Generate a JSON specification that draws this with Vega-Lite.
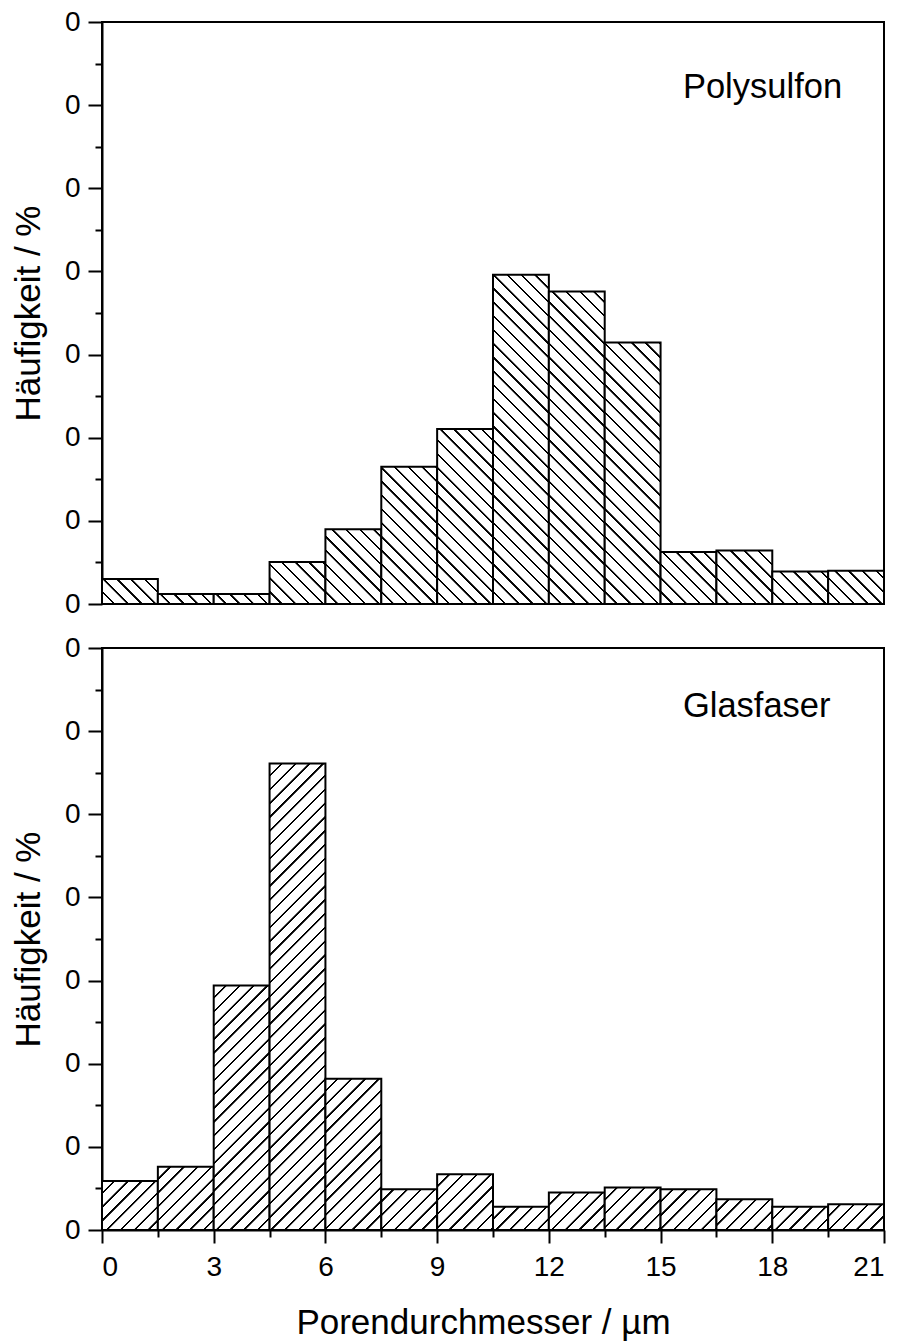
{
  "$schema": "https://vega.github.io/schema/vega-lite/v6.json",
  "padding": {"top": 7, "left": 10, "right": 5, "bottom": 5},
  "bounds": "flush",
  "spacing": 44,
  "params": [
    {
      "name": "hatchStops",
      "value": [
        {"offset":0,"color":"#fff"},{"offset":0.016,"color":"#fff"},{"offset":0.0166,"color":"#000"},{"offset":0.0194,"color":"#000"},
        {"offset":0.02,"color":"#fff"},{"offset":0.036,"color":"#fff"},{"offset":0.0366,"color":"#000"},{"offset":0.0394,"color":"#000"},
        {"offset":0.04,"color":"#fff"},{"offset":0.056,"color":"#fff"},{"offset":0.0566,"color":"#000"},{"offset":0.0594,"color":"#000"},
        {"offset":0.06,"color":"#fff"},{"offset":0.076,"color":"#fff"},{"offset":0.0766,"color":"#000"},{"offset":0.0794,"color":"#000"},
        {"offset":0.08,"color":"#fff"},{"offset":0.096,"color":"#fff"},{"offset":0.0966,"color":"#000"},{"offset":0.0994,"color":"#000"},
        {"offset":0.10,"color":"#fff"},{"offset":0.116,"color":"#fff"},{"offset":0.1166,"color":"#000"},{"offset":0.1194,"color":"#000"},
        {"offset":0.12,"color":"#fff"},{"offset":0.136,"color":"#fff"},{"offset":0.1366,"color":"#000"},{"offset":0.1394,"color":"#000"},
        {"offset":0.14,"color":"#fff"},{"offset":0.156,"color":"#fff"},{"offset":0.1566,"color":"#000"},{"offset":0.1594,"color":"#000"},
        {"offset":0.16,"color":"#fff"},{"offset":0.176,"color":"#fff"},{"offset":0.1766,"color":"#000"},{"offset":0.1794,"color":"#000"},
        {"offset":0.18,"color":"#fff"},{"offset":0.196,"color":"#fff"},{"offset":0.1966,"color":"#000"},{"offset":0.1994,"color":"#000"},
        {"offset":0.20,"color":"#fff"},{"offset":0.216,"color":"#fff"},{"offset":0.2166,"color":"#000"},{"offset":0.2194,"color":"#000"},
        {"offset":0.22,"color":"#fff"},{"offset":0.236,"color":"#fff"},{"offset":0.2366,"color":"#000"},{"offset":0.2394,"color":"#000"},
        {"offset":0.24,"color":"#fff"},{"offset":0.256,"color":"#fff"},{"offset":0.2566,"color":"#000"},{"offset":0.2594,"color":"#000"},
        {"offset":0.26,"color":"#fff"},{"offset":0.276,"color":"#fff"},{"offset":0.2766,"color":"#000"},{"offset":0.2794,"color":"#000"},
        {"offset":0.28,"color":"#fff"},{"offset":0.296,"color":"#fff"},{"offset":0.2966,"color":"#000"},{"offset":0.2994,"color":"#000"},
        {"offset":0.30,"color":"#fff"},{"offset":0.316,"color":"#fff"},{"offset":0.3166,"color":"#000"},{"offset":0.3194,"color":"#000"},
        {"offset":0.32,"color":"#fff"},{"offset":0.336,"color":"#fff"},{"offset":0.3366,"color":"#000"},{"offset":0.3394,"color":"#000"},
        {"offset":0.34,"color":"#fff"},{"offset":0.356,"color":"#fff"},{"offset":0.3566,"color":"#000"},{"offset":0.3594,"color":"#000"},
        {"offset":0.36,"color":"#fff"},{"offset":0.376,"color":"#fff"},{"offset":0.3766,"color":"#000"},{"offset":0.3794,"color":"#000"},
        {"offset":0.38,"color":"#fff"},{"offset":0.396,"color":"#fff"},{"offset":0.3966,"color":"#000"},{"offset":0.3994,"color":"#000"},
        {"offset":0.40,"color":"#fff"},{"offset":0.416,"color":"#fff"},{"offset":0.4166,"color":"#000"},{"offset":0.4194,"color":"#000"},
        {"offset":0.42,"color":"#fff"},{"offset":0.436,"color":"#fff"},{"offset":0.4366,"color":"#000"},{"offset":0.4394,"color":"#000"},
        {"offset":0.44,"color":"#fff"},{"offset":0.456,"color":"#fff"},{"offset":0.4566,"color":"#000"},{"offset":0.4594,"color":"#000"},
        {"offset":0.46,"color":"#fff"},{"offset":0.476,"color":"#fff"},{"offset":0.4766,"color":"#000"},{"offset":0.4794,"color":"#000"},
        {"offset":0.48,"color":"#fff"},{"offset":0.496,"color":"#fff"},{"offset":0.4966,"color":"#000"},{"offset":0.4994,"color":"#000"},
        {"offset":0.50,"color":"#fff"},{"offset":0.516,"color":"#fff"},{"offset":0.5166,"color":"#000"},{"offset":0.5194,"color":"#000"},
        {"offset":0.52,"color":"#fff"},{"offset":0.536,"color":"#fff"},{"offset":0.5366,"color":"#000"},{"offset":0.5394,"color":"#000"},
        {"offset":0.54,"color":"#fff"},{"offset":0.556,"color":"#fff"},{"offset":0.5566,"color":"#000"},{"offset":0.5594,"color":"#000"},
        {"offset":0.56,"color":"#fff"},{"offset":0.576,"color":"#fff"},{"offset":0.5766,"color":"#000"},{"offset":0.5794,"color":"#000"},
        {"offset":0.58,"color":"#fff"},{"offset":0.596,"color":"#fff"},{"offset":0.5966,"color":"#000"},{"offset":0.5994,"color":"#000"},
        {"offset":0.60,"color":"#fff"},{"offset":0.616,"color":"#fff"},{"offset":0.6166,"color":"#000"},{"offset":0.6194,"color":"#000"},
        {"offset":0.62,"color":"#fff"},{"offset":0.636,"color":"#fff"},{"offset":0.6366,"color":"#000"},{"offset":0.6394,"color":"#000"},
        {"offset":0.64,"color":"#fff"},{"offset":0.656,"color":"#fff"},{"offset":0.6566,"color":"#000"},{"offset":0.6594,"color":"#000"},
        {"offset":0.66,"color":"#fff"},{"offset":0.676,"color":"#fff"},{"offset":0.6766,"color":"#000"},{"offset":0.6794,"color":"#000"},
        {"offset":0.68,"color":"#fff"},{"offset":0.696,"color":"#fff"},{"offset":0.6966,"color":"#000"},{"offset":0.6994,"color":"#000"},
        {"offset":0.70,"color":"#fff"},{"offset":0.716,"color":"#fff"},{"offset":0.7166,"color":"#000"},{"offset":0.7194,"color":"#000"},
        {"offset":0.72,"color":"#fff"},{"offset":0.736,"color":"#fff"},{"offset":0.7366,"color":"#000"},{"offset":0.7394,"color":"#000"},
        {"offset":0.74,"color":"#fff"},{"offset":0.756,"color":"#fff"},{"offset":0.7566,"color":"#000"},{"offset":0.7594,"color":"#000"},
        {"offset":0.76,"color":"#fff"},{"offset":0.776,"color":"#fff"},{"offset":0.7766,"color":"#000"},{"offset":0.7794,"color":"#000"},
        {"offset":0.78,"color":"#fff"},{"offset":0.796,"color":"#fff"},{"offset":0.7966,"color":"#000"},{"offset":0.7994,"color":"#000"},
        {"offset":0.80,"color":"#fff"},{"offset":0.816,"color":"#fff"},{"offset":0.8166,"color":"#000"},{"offset":0.8194,"color":"#000"},
        {"offset":0.82,"color":"#fff"},{"offset":0.836,"color":"#fff"},{"offset":0.8366,"color":"#000"},{"offset":0.8394,"color":"#000"},
        {"offset":0.84,"color":"#fff"},{"offset":0.856,"color":"#fff"},{"offset":0.8566,"color":"#000"},{"offset":0.8594,"color":"#000"},
        {"offset":0.86,"color":"#fff"},{"offset":0.876,"color":"#fff"},{"offset":0.8766,"color":"#000"},{"offset":0.8794,"color":"#000"},
        {"offset":0.88,"color":"#fff"},{"offset":0.896,"color":"#fff"},{"offset":0.8966,"color":"#000"},{"offset":0.8994,"color":"#000"},
        {"offset":0.90,"color":"#fff"},{"offset":0.916,"color":"#fff"},{"offset":0.9166,"color":"#000"},{"offset":0.9194,"color":"#000"},
        {"offset":0.92,"color":"#fff"},{"offset":0.936,"color":"#fff"},{"offset":0.9366,"color":"#000"},{"offset":0.9394,"color":"#000"},
        {"offset":0.94,"color":"#fff"},{"offset":0.956,"color":"#fff"},{"offset":0.9566,"color":"#000"},{"offset":0.9594,"color":"#000"},
        {"offset":0.96,"color":"#fff"},{"offset":0.976,"color":"#fff"},{"offset":0.9766,"color":"#000"},{"offset":0.9794,"color":"#000"},
        {"offset":0.98,"color":"#fff"},{"offset":0.996,"color":"#fff"},{"offset":0.9966,"color":"#000"},{"offset":0.9994,"color":"#000"}
      ]
    }
  ],
  "config": {
    "font": "Liberation Sans",
    "view": {"stroke": "black", "strokeWidth": 2},
    "axis": {
      "labelFont": "Liberation Sans",
      "titleFont": "Liberation Sans",
      "labelFontSize": 28,
      "titleFontSize": 35,
      "titleFontWeight": "normal",
      "labelColor": "black",
      "titleColor": "black",
      "domainColor": "black",
      "domainWidth": 2,
      "tickColor": "black",
      "tickWidth": 2,
      "grid": false
    }
  },
  "vconcat": [
    {
      "width": 782,
      "height": 582,
      "layer": [
        {
          "data": {
            "values": [
              {"x0": 0, "x1": 1.5, "v": 0.0150},
              {"x0": 1.5, "x1": 3, "v": 0.0060},
              {"x0": 3, "x1": 4.5, "v": 0.0060},
              {"x0": 4.5, "x1": 6, "v": 0.0253},
              {"x0": 6, "x1": 7.5, "v": 0.0450},
              {"x0": 7.5, "x1": 9, "v": 0.0825},
              {"x0": 9, "x1": 10.5, "v": 0.1053},
              {"x0": 10.5, "x1": 12, "v": 0.1980},
              {"x0": 12, "x1": 13.5, "v": 0.1879},
              {"x0": 13.5, "x1": 15, "v": 0.1572},
              {"x0": 15, "x1": 16.5, "v": 0.0313},
              {"x0": 16.5, "x1": 18, "v": 0.0321},
              {"x0": 18, "x1": 19.5, "v": 0.0195},
              {"x0": 19.5, "x1": 21, "v": 0.0200}
            ]
          },
          "mark": {"type": "bar", "stroke": "black", "strokeWidth": 2},
          "encoding": {
            "x": {"field": "x0", "type": "quantitative", "scale": {"domain": [0, 21], "nice": false}, "axis": null},
            "x2": {"field": "x1"},
            "y": {
              "field": "v",
              "type": "quantitative",
              "scale": {"domain": [0, 0.35], "nice": false},
              "axis": {
                "title": "Häufigkeit / %",
                "values": [0, 0.025, 0.05, 0.075, 0.1, 0.125, 0.15, 0.175, 0.2, 0.225, 0.25, 0.275, 0.3, 0.325, 0.35],
                "labelExpr": "round(datum.value * 40) % 2 == 0 ? '0' : ''",
                "tickSize": {"condition": {"test": "round(datum.value * 40) % 2 == 0", "value": 14}, "value": 7},
                "labelPadding": 8,
                "titlePadding": 18
              }
            },
            "y2": {"datum": 0},
            "fill": {"value": {"expr": "{gradient: 'linear', x1: 0, y1: 1, x2: 690 * 55.9 / (3124.8 + pow(datum.v * 1662.9, 2)), y2: 1 - 690 * datum.v * 1662.9 / (3124.8 + pow(datum.v * 1662.9, 2)), stops: hatchStops}"}}
          }
        },
        {
          "data": {"values": [{}]},
          "mark": {"type": "text", "align": "left", "baseline": "alphabetic", "fontSize": 34.5, "font": "Liberation Sans", "color": "black"},
          "encoding": {
            "x": {"datum": 15.6, "type": "quantitative"},
            "y": {"datum": 0.3043, "type": "quantitative"},
            "text": {"value": "Polysulfon"}
          }
        }
      ]
    },
    {
      "width": 782,
      "height": 582,
      "layer": [
        {
          "data": {
            "values": [
              {"x0": 0, "x1": 1.5, "v": 0.0295},
              {"x0": 1.5, "x1": 3, "v": 0.0380},
              {"x0": 3, "x1": 4.5, "v": 0.1470},
              {"x0": 4.5, "x1": 6, "v": 0.2805},
              {"x0": 6, "x1": 7.5, "v": 0.0910},
              {"x0": 7.5, "x1": 9, "v": 0.0245},
              {"x0": 9, "x1": 10.5, "v": 0.0335},
              {"x0": 10.5, "x1": 12, "v": 0.0140},
              {"x0": 12, "x1": 13.5, "v": 0.0225},
              {"x0": 13.5, "x1": 15, "v": 0.0255},
              {"x0": 15, "x1": 16.5, "v": 0.0245},
              {"x0": 16.5, "x1": 18, "v": 0.0185},
              {"x0": 18, "x1": 19.5, "v": 0.0140},
              {"x0": 19.5, "x1": 21, "v": 0.0155}
            ]
          },
          "mark": {"type": "bar", "stroke": "black", "strokeWidth": 2},
          "encoding": {
            "x": {
              "field": "x0",
              "type": "quantitative",
              "scale": {"domain": [0, 21], "nice": false},
              "axis": {
                "title": "Porendurchmesser / µm",
                "titleX": 381,
                "values": [0, 1.5, 3, 4.5, 6, 7.5, 9, 10.5, 12, 13.5, 15, 16.5, 18, 19.5, 21],
                "labelExpr": "datum.value % 3 == 0 ? datum.label : ''",
                "tickSize": {"condition": {"test": "datum.value % 3 == 0", "value": 13}, "value": 7},
                "labelPadding": 10,
                "titlePadding": 24
              }
            },
            "x2": {"field": "x1"},
            "y": {
              "field": "v",
              "type": "quantitative",
              "scale": {"domain": [0, 0.35], "nice": false},
              "axis": {
                "title": "Häufigkeit / %",
                "values": [0, 0.025, 0.05, 0.075, 0.1, 0.125, 0.15, 0.175, 0.2, 0.225, 0.25, 0.275, 0.3, 0.325, 0.35],
                "labelExpr": "round(datum.value * 40) % 2 == 0 ? '0' : ''",
                "tickSize": {"condition": {"test": "round(datum.value * 40) % 2 == 0", "value": 14}, "value": 7},
                "labelPadding": 8,
                "titlePadding": 18
              }
            },
            "y2": {"datum": 0},
            "fill": {"value": {"expr": "{gradient: 'linear', x1: 0, y1: 0, x2: 690 * 55.9 / (3124.8 + pow(datum.v * 1662.9, 2)), y2: 690 * datum.v * 1662.9 / (3124.8 + pow(datum.v * 1662.9, 2)), stops: hatchStops}"}}
          }
        },
        {
          "data": {"values": [{}]},
          "mark": {"type": "text", "align": "left", "baseline": "alphabetic", "fontSize": 34.5, "font": "Liberation Sans", "color": "black"},
          "encoding": {
            "x": {"datum": 15.6, "type": "quantitative"},
            "y": {"datum": 0.3087, "type": "quantitative"},
            "text": {"value": "Glasfaser"}
          }
        }
      ]
    }
  ]
}
